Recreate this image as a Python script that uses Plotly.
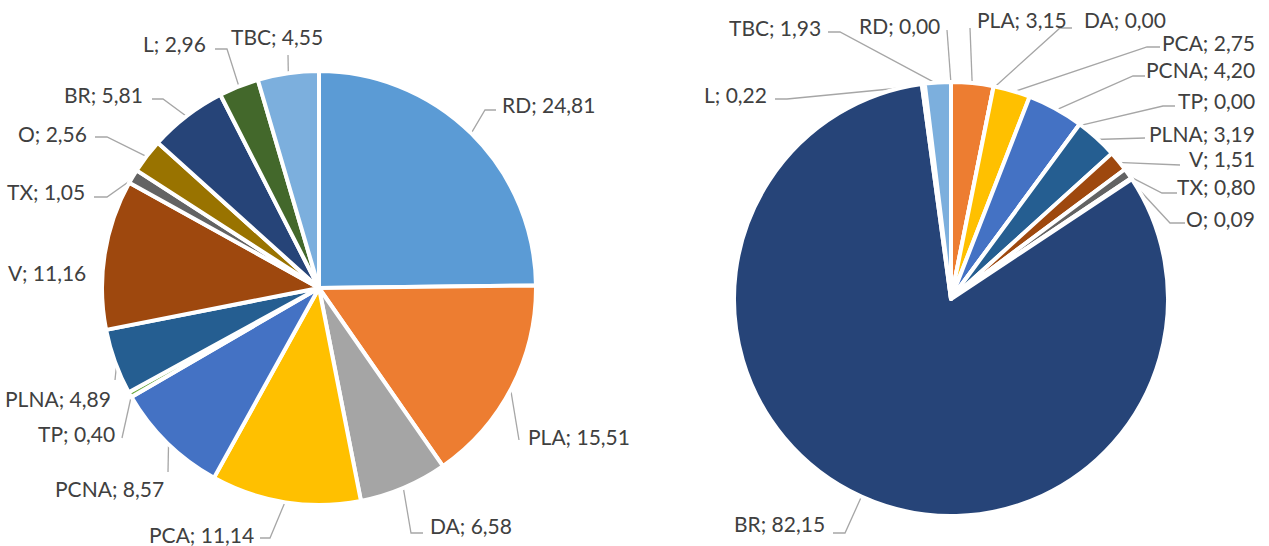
import math
import plotly.graph_objects as go

W, H = 1269, 546

categories = ["RD", "PLA", "DA", "PCA", "PCNA", "TP", "PLNA", "V", "TX", "O", "BR", "L", "TBC"]
left_values = [24.81, 15.51, 6.58, 11.14, 8.57, 0.40, 4.89, 11.16, 1.05, 2.56, 5.81, 2.96, 4.55]
right_values = [0.00, 3.15, 0.00, 2.75, 4.20, 0.00, 3.19, 1.51, 0.80, 0.09, 82.15, 0.22, 1.93]

colors = ["#5B9BD5", "#ED7D31", "#A5A5A5", "#FFC000", "#4472C4", "#70AD47", "#255E91",
          "#9E480E", "#636363", "#997300", "#264478", "#43682B", "#7CAFDD"]

# pie geometry in pixels (center x, center y, radius)
left_geo = (319, 288, 215)
right_geo = (951, 299, 215)
BORDER = 4

# label layout: text anchor (x, y, xanchor) and leader-line bend points (pixels)
left_labels = {
    "RD":   (500, 104, "left",   [(485, 110), (496, 110)]),
    "PLA":  (526, 436, "left",   [(519, 440)]),
    "DA":   (428, 525, "left",   [(411, 533), (423, 533)]),
    "PCA":  (256, 534, "right",  [(270, 538), (260, 538)]),
    "PCNA": (166, 488, "right",  [(168, 472)]),
    "TP":   (117, 433, "right",  [(122, 438)]),
    "PLNA": (113, 398, "right",  [(115, 380)]),
    "V":    (88, 272, "right",   None),
    "TX":   (87, 191, "right",   [(107, 197), (94, 197)]),
    "O":    (89, 133, "right",   [(107, 137), (95, 137)]),
    "BR":   (145, 94, "right",   [(163, 99), (152, 99)]),
    "L":    (208, 43, "right",   [(227, 49), (215, 49)]),
    "TBC":  (277, 36, "center",  [(288, 55)]),
}
right_labels = {
    "RD":   (942, 25, "right",  [(947, 30)]),
    "PLA":  (975, 19, "left",   [(970, 28)]),
    "DA":   (1082, 19, "left",  [(1060, 28), (1072, 28)]),
    "PCA":  (1257, 42, "right", [(1147, 47), (1160, 47)]),
    "PCNA": (1257, 69, "right", [(1133, 76), (1145, 76)]),
    "TP":   (1257, 100, "right", [(1163, 106), (1175, 106)]),
    "PLNA": (1257, 133, "right", [(1145, 138)]),
    "V":    (1257, 158, "right", [(1180, 165)]),
    "TX":   (1257, 186, "right", [(1162, 193), (1177, 193)]),
    "O":    (1257, 218, "right", [(1170, 223), (1185, 223)]),
    "BR":   (827, 523, "right", [(845, 533), (833, 533)]),
    "L":    (769, 94, "right",  [(787, 99), (775, 99)]),
    "TBC":  (823, 27, "right",  [(840, 32), (828, 32)]),
}

FONT = "Lato, 'Open Sans', sans-serif"
TEXT_COLOR = "#404040"
LINE_COLOR = "#A6A6A6"

fig = go.Figure()


def add_pie(values, geo):
    cx, cy, r = geo
    R = r + BORDER / 2
    fig.add_trace(go.Pie(
        labels=categories, values=values, sort=False, direction="clockwise", rotation=0,
        marker=dict(colors=colors, line=dict(color="white", width=BORDER)),
        textinfo="none", hoverinfo="label+value", showlegend=False,
        domain=dict(x=[(cx - R) / W, (cx + R) / W], y=[1 - (cy + R) / H, 1 - (cy - R) / H]),
    ))


def add_labels(values, geo, spec):
    cx, cy, r = geo
    total = sum(values)
    cum = 0.0
    for cat, v in zip(categories, values):
        mid = (cum + v / 2) / total * 2 * math.pi
        cum += v
        ex, ey = cx + r * math.sin(mid), cy - r * math.cos(mid)
        tx, ty, xa, pts = spec[cat]
        if pts:
            xs = [ex] + [p[0] for p in pts]
            ys = [ey] + [p[1] for p in pts]
            fig.add_trace(go.Scatter(x=xs, y=ys, mode="lines", line=dict(color=LINE_COLOR, width=1.3),
                                     hoverinfo="skip", showlegend=False, xaxis="x", yaxis="y"))
        text = f"{cat}; {v:.2f}".replace(".", ",")
        fig.add_annotation(x=tx, y=ty, xref="x", yref="y", text=text, showarrow=False,
                           xanchor=xa, yanchor="middle",
                           font=dict(family=FONT, size=21, color=TEXT_COLOR))


add_pie(left_values, left_geo)
add_pie(right_values, right_geo)
add_labels(left_values, left_geo, left_labels)
add_labels(right_values, right_geo, right_labels)

fig.update_layout(
    width=W, height=H,
    margin=dict(l=0, r=0, t=0, b=0),
    paper_bgcolor="white", plot_bgcolor="rgba(0,0,0,0)",
    xaxis=dict(range=[0, W], domain=[0, 1], visible=False, fixedrange=True),
    yaxis=dict(range=[H, 0], domain=[0, 1], visible=False, fixedrange=True),
    font=dict(family=FONT),
)

fig.write_html("out.html", config={"displayModeBar": False},
               post_script="document.body.style.margin='0';document.body.style.overflow='hidden';")
